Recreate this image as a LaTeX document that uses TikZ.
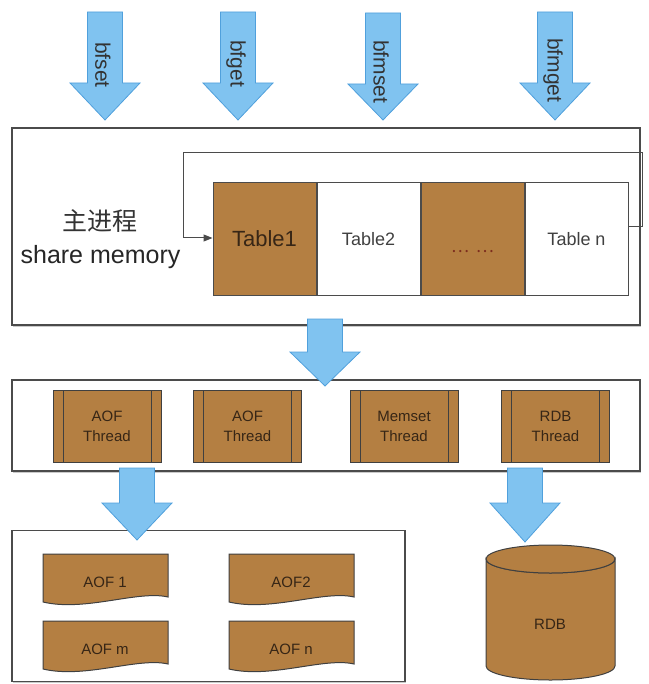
\documentclass[tikz,border=0pt]{standalone}
\usepackage{fontspec}
\setmainfont{Liberation Sans}
\newfontfamily\cjkfont{Noto Sans CJK SC}
\usetikzlibrary{shapes.geometric, arrows.meta, positioning, shadows}
\definecolor{brownfill}{RGB}{180,127,66}
\definecolor{arrowblue}{RGB}{128,195,240}
\definecolor{arrowedge}{RGB}{80,160,220}
\definecolor{boxline}{RGB}{75,75,75}
\definecolor{inktext}{RGB}{55,38,22}
\definecolor{dotink}{RGB}{125,45,30}
\tikzset{
    frame/.style={
        rectangle, draw=boxline, line width=1.3pt, fill=white,
        drop shadow={shadow xshift=0.6pt, shadow yshift=-1.6pt, fill=black!35, opacity=0.6}
    },
    table/.style={
        rectangle, draw=boxline, line width=1pt, inner sep=0pt,
        minimum width=103pt, minimum height=112pt
    },
    thread/.style={
        rectangle, draw=black!75, line width=1pt, fill=brownfill,
        minimum width=108pt, minimum height=72pt, align=center,
        text=inktext, font=\fontsize{15}{20}\selectfont,
        path picture={
            \draw[black!75, line width=1pt]
                ([xshift=10pt]path picture bounding box.north west) -- ([xshift=10pt]path picture bounding box.south west)
                ([xshift=-10pt]path picture bounding box.north east) -- ([xshift=-10pt]path picture bounding box.south east);
        }
    },
    docshape/.style={draw=black!75, line width=1pt, fill=brownfill},
    doctext/.style={text=inktext, font=\fontsize{15}{18}\selectfont},
    flow/.style={fill=arrowblue, draw=arrowedge, line width=0.8pt, line join=miter},
    flowlabel/.style={rotate=-90, anchor=west, text=black!80, font=\fontsize{21}{24}\selectfont, inner sep=0pt},
    loopline/.style={draw=boxline, line width=1pt, -{Triangle[length=9pt, width=7pt]}}
}
% block arrow: centre x, top y, start of head y, tip y
\newcommand{\flowarrow}[4]{%
    \path[flow] (#1-17.5,#2) -- (#1+17.5,#2) -- (#1+17.5,#3) -- (#1+35,#3)
        -- (#1,#4) -- (#1-35,#3) -- (#1-17.5,#3) -- cycle;}

\begin{document}
\begin{tikzpicture}[x=1pt, y=-1pt]
\useasboundingbox (0,0) rectangle (648,684);

% Frames
\node[frame, minimum width=628pt, minimum height=197pt] (memframe) at (326,226.5) {};
\node[frame, minimum width=628pt, minimum height=91pt] (threadframe) at (326,425.5) {};
\node[frame, minimum width=393pt, minimum height=151pt] (aofframe) at (208.5,606) {};

% Commands entering the main process
\flowarrow{105}{12}{83}{120}
\flowarrow{238}{12}{83}{120}
\flowarrow{383}{13}{84}{120}
\flowarrow{555}{12}{83}{120}
\node[flowlabel] (bfset) at (103,42) {bfset};
\node[flowlabel] (bfget) at (236,40) {bfget};
\node[flowlabel] (bfmset) at (381,40) {bfmset};
\node[flowlabel] (bfmget) at (553,38) {bfmget};

% Shared memory tables
\node[font=\cjkfont\fontsize{25}{28}\selectfont, text=black!80] (proc) at (100,221) {主进程};
\node[font=\fontsize{25}{28}\selectfont, text=black!85] (shm) at (100.5,257) {share memory};

\node[table, fill=brownfill, text=inktext, font=\fontsize{22}{24}\selectfont] (t1) at (264.5,239) {Table1};
\node[table, fill=white, text=black!75, font=\fontsize{18}{20}\selectfont, right=0pt of t1] (t2) {Table2};
\node[table, fill=brownfill, text=dotink, font=\cjkfont\fontsize{17}{20}\selectfont,
      text height=28pt, text depth=0pt, right=0pt of t2] (t3) {…\hspace{7pt}…};
\node[table, fill=white, text=black!75, font=\fontsize{18}{20}\selectfont, right=0pt of t3] (tn) {Table n};

\draw[loopline] ([yshift=12pt]tn.east) -- ++(14,0) |- (183,153) |- ([yshift=1pt]t1.west);

% Worker threads
\node[thread] (aof1th) at (107,426) {AOF\\Thread};
\node[thread] (aof2th) at (247.5,426) {AOF\\Thread};
\node[thread] (memth) at (404,426) {Memset\\Thread};
\node[thread] (rdbth) at (555.5,426) {RDB\\Thread};

% AOF files
\foreach \name/\x/\y/\txt in {aof1/43/554/AOF 1, aof2/229/554/AOF2, aofm/43/621/AOF m, aofn/229/621/AOF n}{
    \begin{scope}[shift={(\x,\y)}]
        \path[docshape] (0,0) -- (125,0) -- (125,43) .. controls (95,36) and (42,58) .. (0,48) -- cycle;
        \node[doctext] (\name) at (62,28) {\txt};
    \end{scope}
}

% RDB snapshot
\path[docshape] (486,559) -- (486,666) arc[start angle=180, end angle=0, x radius=64.5, y radius=14]
    -- (615,559) arc[start angle=0, end angle=180, x radius=64.5, y radius=14] -- cycle;
\path[docshape] (550.5,559) ellipse[x radius=64.5, y radius=14];
\node[doctext] (rdb) at (550,624) {RDB};

% Data flow between stages
\flowarrow{325}{319}{352}{386}
\flowarrow{137}{468}{503}{540}
\flowarrow{525}{468}{503}{542}

\end{tikzpicture}
\end{document}
